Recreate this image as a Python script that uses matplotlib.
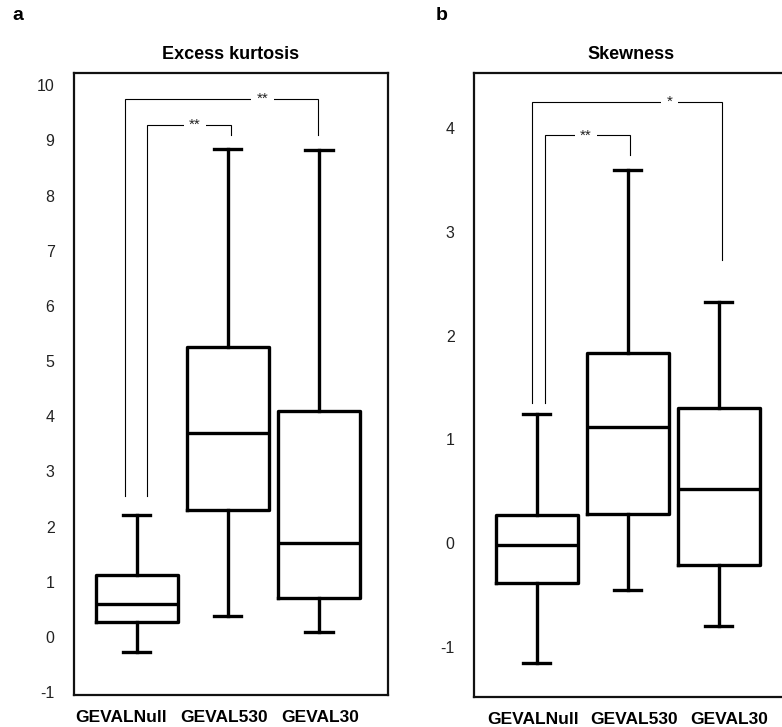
import matplotlib
matplotlib.use("Agg")
import matplotlib.pyplot as plt
import matplotlib.transforms as mtransforms

plt.rcParams['font.family'] = ['Liberation Sans', 'DejaVu Sans']

groups = ["GEVALNull", "GEVAL530", "GEVAL30"]

# Excess kurtosis: lower whisker, Q1, median, Q3, upper whisker
kurt_low = [-0.27, 0.38, 0.10]
kurt_q1 = [0.28, 2.30, 0.70]
kurt_med = [0.60, 3.70, 1.70]
kurt_q3 = [1.12, 5.25, 4.10]
kurt_high = [2.22, 8.85, 8.82]

# Skewness: lower whisker, Q1, median, Q3, upper whisker
skew_low = [-1.15, -0.45, -0.80]
skew_q1 = [-0.38, 0.28, -0.21]
skew_med = [-0.02, 1.12, 0.52]
skew_q3 = [0.27, 1.83, 1.30]
skew_high = [1.25, 3.60, 2.32]

kurt_ticks = [-1, 0, 1, 2, 3, 4, 5, 6, 7, 8, 9, 10]
skew_ticks = [-1, 0, 1, 2, 3, 4]

# significance brackets: (left x, right x, top y, left foot, right foot, label, label x)
kurt_brackets = [
    (0.87, 2.99, 9.75, 2.55, 9.10, "**", 2.38),
    (1.11, 2.03, 9.28, 2.55, 9.10, "**", 1.64),
]
skew_brackets = [
    (0.95, 3.03, 4.25, 1.35, 2.73, "*", 2.46),
    (1.09, 2.02, 3.93, 1.35, 3.74, "**", 1.54),
]


def make_stats(low, q1, med, q3, high):
    return [dict(whislo=a, q1=b, med=c, q3=d, whishi=e, fliers=[])
            for a, b, c, d, e in zip(low, q1, med, q3, high)]


def draw_panel(ax, stats, ticks, ylim, brackets, title, label_shift):
    lw = 2.4
    ax.bxp(stats, positions=[1, 2, 3], widths=0.9, capwidths=0.3,
           showfliers=False, patch_artist=False,
           boxprops=dict(color="black", linewidth=lw),
           medianprops=dict(color="black", linewidth=lw),
           whiskerprops=dict(color="black", linewidth=lw),
           capprops=dict(color="black", linewidth=lw))
    ax.set_xlim(0.31, 3.76)
    ax.set_ylim(*ylim)
    ax.set_yticks(ticks)
    ax.set_yticklabels([str(t) for t in ticks], fontsize=11.5, color="#222222")
    ax.set_xticks([1, 2, 3])
    ax.set_xticklabels(groups, fontsize=12.5, fontweight="bold")
    ax.tick_params(axis="y", length=0, pad=14)
    ax.tick_params(axis="x", length=0, pad=11)
    # nudge the category labels sideways so they keep a small gap between them
    for lab, dx in zip(ax.get_xticklabels(), label_shift):
        lab.set_transform(lab.get_transform() + mtransforms.ScaledTranslation(
            dx / 100, 0, ax.figure.dpi_scale_trans))
    for s in ax.spines.values():
        s.set_linewidth(1.6)
        s.set_color("#111111")
    ax.set_title(title, fontsize=13, fontweight="bold", pad=10)
    for xl, xr, top, foot_l, foot_r, label, lx in brackets:
        ax.plot([xl, xl, xr, xr], [foot_l, top, top, foot_r],
                color="black", linewidth=0.8, solid_joinstyle="miter")
        ax.text(lx, top, label, ha="center", va="center", fontsize=11,
                color="#222222",
                bbox=dict(facecolor="white", edgecolor="none", pad=4))


fig = plt.figure(figsize=(7.82, 7.27), dpi=100)
ax1 = fig.add_axes([0.0946, 0.044, 0.4016, 0.8556])
ax2 = fig.add_axes([0.6061, 0.0413, 0.4016, 0.8583])

draw_panel(ax1, make_stats(kurt_low, kurt_q1, kurt_med, kurt_q3, kurt_high),
           kurt_ticks, (-1.05, 10.22), kurt_brackets, "Excess kurtosis",
           [-16, -4, 1])
draw_panel(ax2, make_stats(skew_low, skew_q1, skew_med, skew_q3, skew_high),
           skew_ticks, (-1.48, 4.53), skew_brackets, "Skewness",
           [-4, 6, 10])

fig.text(18 / 782, 1 - 16 / 727, "a", fontsize=14, fontweight="bold",
         ha="center", va="center")
fig.text(442 / 782, 1 - 16 / 727, "b", fontsize=14, fontweight="bold",
         ha="center", va="center")

fig.savefig("out.png", dpi=100)
